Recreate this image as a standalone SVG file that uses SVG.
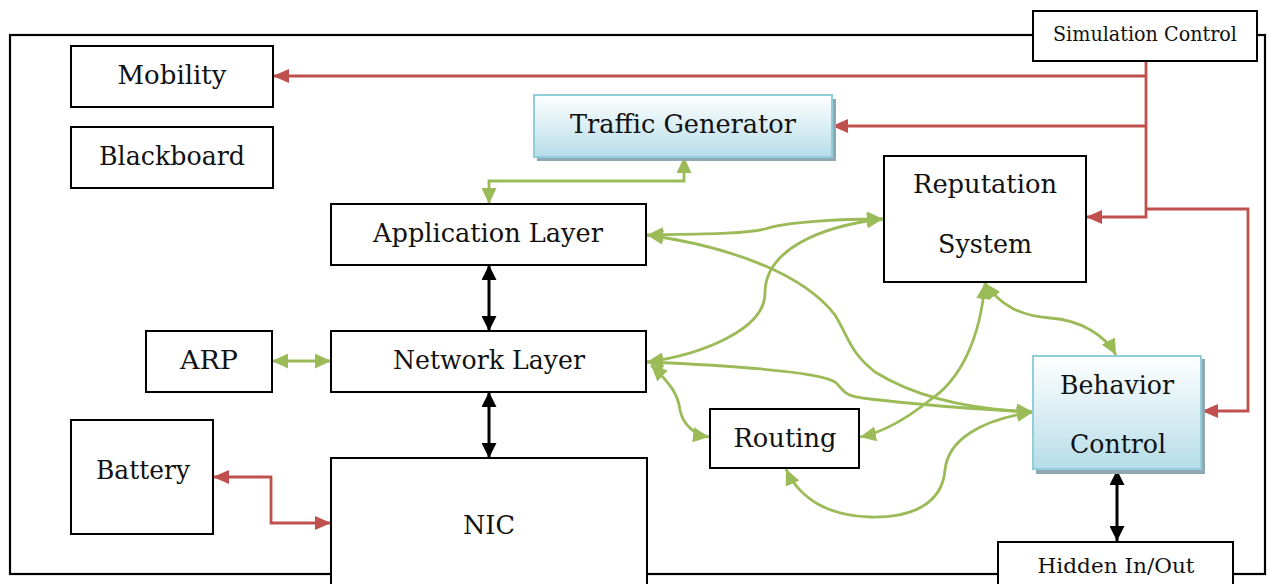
<svg xmlns="http://www.w3.org/2000/svg" width="1267" height="584" viewBox="0 0 1267 584">
<defs>
<linearGradient id="blueGrad" x1="0" y1="0" x2="0" y2="1">
<stop offset="0" stop-color="#ffffff"/>
<stop offset="1" stop-color="#b6dde8"/>
</linearGradient>
<marker id="aG" viewBox="0 0 16 15" refX="16" refY="7.5" markerWidth="16" markerHeight="15" markerUnits="userSpaceOnUse" orient="auto-start-reverse"><path d="M0,0 L16,7.5 L0,15 z" fill="#9bbb59"/></marker>
<marker id="aR" viewBox="0 0 16 14" refX="16" refY="7" markerWidth="16" markerHeight="14" markerUnits="userSpaceOnUse" orient="auto-start-reverse"><path d="M0,0 L16,7 L0,14 z" fill="#c0504d"/></marker>
<marker id="aK" viewBox="0 0 15 15" refX="15" refY="7.5" markerWidth="15" markerHeight="15" markerUnits="userSpaceOnUse" orient="auto-start-reverse"><path d="M0,0 L15,7.5 L0,15 z" fill="#000"/></marker>
</defs>
<style>
.box{fill:#fff;stroke:#000;stroke-width:2}
.blue{fill:url(#blueGrad);stroke:#92cddc;stroke-width:2}
.shadow{fill:#8fa8b2}
.t{font-family:"DejaVu Serif","Liberation Serif",serif;font-size:26px;fill:#111;text-anchor:middle}
.ts{font-family:"DejaVu Serif","Liberation Serif",serif;font-size:20px;fill:#111;text-anchor:middle}
.g{fill:none;stroke:#9bbb59;stroke-width:2.8;marker-start:url(#aG);marker-end:url(#aG)}
.r{fill:none;stroke:#c0504d;stroke-width:2.8}
.k{fill:none;stroke:#000;stroke-width:3;marker-start:url(#aK);marker-end:url(#aK)}
</style>
<rect width="1267" height="584" fill="#fff"/>
<rect id="frame" x="10" y="35" width="1255" height="539" fill="none" stroke="#000" stroke-width="2.2"/>

<g id="connectors">
<path class="r" d="M1146,61 V217 H1086" marker-end="url(#aR)"/>
<path class="r" d="M1146,76 H273" marker-end="url(#aR)"/>
<path class="r" d="M1146,126 H832" marker-end="url(#aR)"/>
<path class="r" d="M1146,209 H1248 V411 H1202" marker-end="url(#aR)"/>
<path class="r" d="M213,477 H271 V523 H331" marker-start="url(#aR)" marker-end="url(#aR)"/>
<path class="k" d="M489,265 V331"/>
<path class="k" d="M489,392 V458"/>
<path class="k" d="M1117,470 V541"/>
<path class="g" d="M489,204 V181 H684 V157"/>
<path class="g" d="M272,361 H331"/>
<path class="g" d="M647,235 C700,234 745,234 765,229 C785,222 840,219 883,219"/>
<path class="g" d="M647,362 C700,355 765,330 765,293 C765,250 820,226 883,219"/>
<path class="g" d="M647,235 C720,245 800,270 835,315 C850,340 850,352 875,372 C920,400 980,410 1033,412"/>
<path class="g" d="M647,362 C740,366 820,372 835,382 C845,390 840,396 870,399 C930,406 990,410 1033,412"/>
<path class="g" d="M651,365 C672,385 678,395 680,410 C683,425 695,435 709,437"/>
<path class="g" d="M985,283 C980,340 960,380 930,400 C905,420 880,433 860,437"/>
<path class="g" d="M985,283 C1000,305 1020,316 1050,318 C1080,320 1105,335 1116,355"/>
<path class="g" d="M1033,412 C980,420 948,440 945,470 C942,505 910,518 870,517 C830,516 800,500 786,469"/>
</g>

<g id="simulation-control">
<rect class="box" x="1033" y="11" width="224" height="50"/>
<text class="ts" x="1145" y="41" textLength="184" lengthAdjust="spacingAndGlyphs">Simulation Control</text>
</g>
<g id="mobility">
<rect class="box" x="71" y="46" width="202" height="61"/>
<text class="t" x="172" y="84" textLength="109" lengthAdjust="spacingAndGlyphs">Mobility</text>
</g>
<g id="blackboard">
<rect class="box" x="71" y="127" width="202" height="61"/>
<text class="t" x="172" y="165" textLength="146" lengthAdjust="spacingAndGlyphs">Blackboard</text>
</g>
<g id="traffic-generator">
<rect class="shadow" x="537" y="99" width="299" height="62"/>
<rect class="blue" x="534" y="95" width="298" height="62"/>
<text class="t" x="683" y="133" textLength="226" lengthAdjust="spacingAndGlyphs">Traffic Generator</text>
</g>
<g id="application-layer">
<rect class="box" x="331" y="204" width="315" height="61"/>
<text class="t" x="488" y="242" textLength="230" lengthAdjust="spacingAndGlyphs">Application Layer</text>
</g>
<g id="reputation-system">
<rect class="box" x="884" y="156" width="202" height="126"/>
<text class="t" x="985" y="193" textLength="144" lengthAdjust="spacingAndGlyphs">Reputation</text>
<text class="t" x="985" y="253" textLength="94" lengthAdjust="spacingAndGlyphs">System</text>
</g>
<g id="arp">
<rect class="box" x="146" y="331" width="126" height="61"/>
<text class="t" x="209" y="369" textLength="58" lengthAdjust="spacingAndGlyphs">ARP</text>
</g>
<g id="network-layer">
<rect class="box" x="331" y="331" width="315" height="61"/>
<text class="t" x="489" y="369" textLength="192" lengthAdjust="spacingAndGlyphs">Network Layer</text>
</g>
<g id="battery">
<rect class="box" x="71" y="420" width="142" height="114"/>
<text class="t" x="143" y="479" textLength="94" lengthAdjust="spacingAndGlyphs">Battery</text>
</g>
<g id="nic">
<rect class="box" x="331" y="458" width="316" height="140"/>
<text class="t" x="489" y="534" textLength="52" lengthAdjust="spacingAndGlyphs">NIC</text>
</g>
<g id="routing">
<rect class="box" x="710" y="409" width="149" height="59"/>
<text class="t" x="785" y="447" textLength="103" lengthAdjust="spacingAndGlyphs">Routing</text>
</g>
<g id="behavior-control">
<rect class="shadow" x="1036" y="359" width="169" height="115"/>
<rect class="blue" x="1033" y="356" width="168" height="113"/>
<text class="t" x="1117" y="394" textLength="114" lengthAdjust="spacingAndGlyphs">Behavior</text>
<text class="t" x="1118" y="453" textLength="96" lengthAdjust="spacingAndGlyphs">Control</text>
</g>
<g id="hidden-in-out">
<rect class="box" x="998" y="542" width="235" height="60"/>
<text class="ts" x="1116" y="573" textLength="157" lengthAdjust="spacingAndGlyphs">Hidden In/Out</text>
</g>
</svg>
